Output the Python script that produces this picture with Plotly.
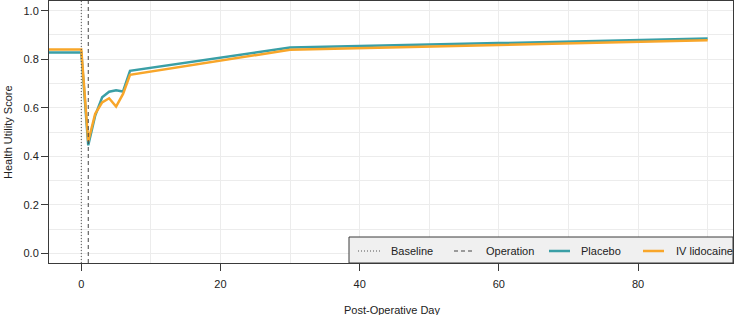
import plotly.graph_objects as go

# Data
days = [-5, 0, 1, 2, 3, 4, 5, 6, 7, 30, 90]
placebo = [0.828, 0.828, 0.445, 0.568, 0.643, 0.666, 0.672, 0.667, 0.752, 0.848, 0.885]
lidocaine = [0.840, 0.840, 0.462, 0.575, 0.622, 0.639, 0.605, 0.657, 0.736, 0.839, 0.878]
baseline_day = 0
operation_day = 1
legend_labels = ["Baseline", "Operation", "Placebo", "IV lidocaine"]

TEAL = "#3a9fa6"
ORANGE = "#f8a62a"
AX = "#3a3a3a"
GRID = "#ececec"
FONT = "Liberation Sans, Arial, sans-serif"
DOT = "1px,2px"
DASH = "4px,3px"

W, H = 735, 315
L, R, T, B = 49, 2, 1, 52
PW, PH = W - L - R, H - T - B

def px(x):
    return (x - L) / PW

def py(y):
    return (H - B - y) / PH

fig = go.Figure()
fig.add_trace(go.Scatter(x=days, y=placebo, mode="lines", line=dict(color=TEAL, width=2.5), showlegend=False))
fig.add_trace(go.Scatter(x=days, y=lidocaine, mode="lines", line=dict(color=ORANGE, width=2.5), showlegend=False))

shapes = [
    dict(type="line", xref="x", yref="paper", x0=baseline_day, x1=baseline_day, y0=0, y1=1,
         line=dict(color="#555", width=1, dash=DOT)),
    dict(type="line", xref="x", yref="paper", x0=operation_day, x1=operation_day, y0=0, y1=1,
         line=dict(color="#444", width=1, dash=DASH)),
]

# manual legend box
lx0, lx1, ly0, ly1 = 349, 733, 237, 263
shapes.append(dict(type="rect", xref="paper", yref="paper", x0=px(lx0), x1=px(lx1), y0=py(ly1), y1=py(ly0),
                   fillcolor="#f0f0f0", line=dict(color=AX, width=1), layer="above"))
ymid = 251
samples = [(358, 380, dict(color="#555", width=1, dash=DOT)),
           (454, 474, dict(color="#444", width=1, dash=DASH)),
           (549, 570, dict(color=TEAL, width=2.5)),
           (643, 664, dict(color=ORANGE, width=2.5))]
text_x = [389, 484, 579, 674]
annotations = []
for (a, b, ln), tx, lab in zip(samples, text_x, legend_labels):
    shapes.append(dict(type="line", xref="paper", yref="paper", x0=px(a), x1=px(b), y0=py(ymid), y1=py(ymid),
                       line=ln, layer="above"))
    annotations.append(dict(x=px(tx), y=py(ymid), xref="paper", yref="paper", text=lab, showarrow=False,
                            xanchor="left", yanchor="middle", font=dict(size=11, color="#222", family=FONT)))

annotations.append(dict(x=px(392), y=py(310), xref="paper", yref="paper", text="Post-Operative Day",
                        showarrow=False, xanchor="center", yanchor="middle",
                        font=dict(size=11, color="#222", family=FONT)))
annotations.append(dict(x=px(8), y=py(132), xref="paper", yref="paper", text="Health Utility Score",
                        showarrow=False, xanchor="center", yanchor="middle", textangle=-90,
                        font=dict(size=11, color="#222", family=FONT)))

fig.update_layout(
    width=W, height=H,
    margin=dict(l=L, r=R, t=T, b=B),
    paper_bgcolor="white", plot_bgcolor="white",
    font=dict(family=FONT, size=11, color="#222"),
    shapes=shapes, annotations=annotations,
    showlegend=False,
)
fig.update_xaxes(range=[-4.64, 93.64], tick0=0, dtick=20, ticks="outside", ticklen=7, tickcolor=AX,
                 ticklabelstandoff=4,
                 showline=True, linecolor=AX, linewidth=1, mirror=True,
                 showgrid=True, gridcolor=GRID, zeroline=False,
                 minor=dict(dtick=10, tick0=0, showgrid=True, gridcolor=GRID))
fig.update_yaxes(range=[-0.04, 1.04], tick0=0, dtick=0.2, tickformat=".1f", ticks="outside", ticklen=7,
                 tickcolor=AX, showline=True, linecolor=AX, linewidth=1, mirror=True,
                 showgrid=True, gridcolor=GRID, zeroline=False,
                 minor=dict(dtick=0.1, tick0=0, showgrid=True, gridcolor=GRID))

fig.write_html("out.html")
